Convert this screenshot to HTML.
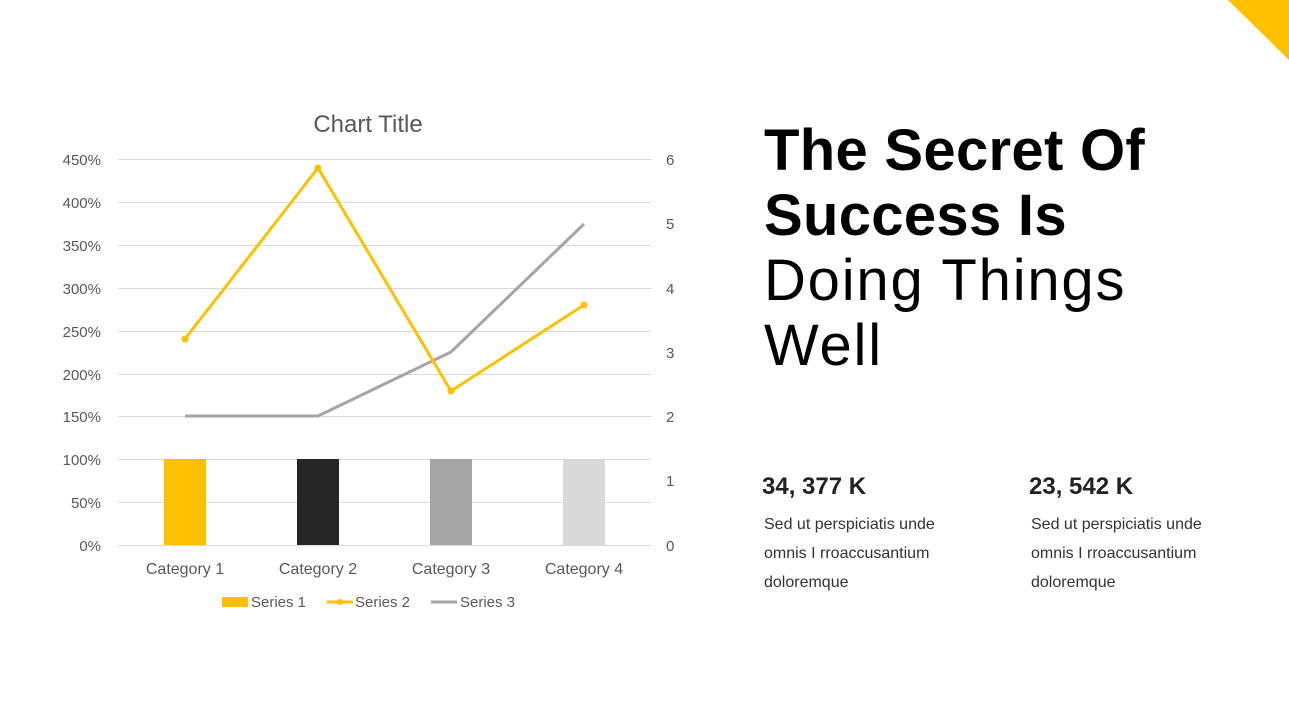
<!DOCTYPE html>
<html><head><meta charset="utf-8"><style>
body{margin:0;width:1289px;height:721px;background:#fff;overflow:hidden;position:relative;font-family:"Liberation Sans",sans-serif}
.h{position:absolute;left:764px;font-size:58px;line-height:65px;color:#000;white-space:nowrap}
.st{position:absolute;font-size:24px;font-weight:bold;color:#222}
.p{position:absolute;font-size:16px;line-height:29px;color:#333}
</style></head><body>
<svg width="1289" height="721" style="position:absolute;left:0;top:0">
<polygon points="1228,0 1289,0 1289,60" fill="#FFC000"/>
<text x="368" y="132" font-size="24" fill="#595959" text-anchor="middle" font-family="Liberation Sans">Chart Title</text>
<g stroke="#d9d9d9" stroke-width="1">
<line x1="118" x2="651" y1="159.5" y2="159.5"/><line x1="118" x2="651" y1="202.5" y2="202.5"/>
<line x1="118" x2="651" y1="245.5" y2="245.5"/><line x1="118" x2="651" y1="288.5" y2="288.5"/>
<line x1="118" x2="651" y1="331.5" y2="331.5"/><line x1="118" x2="651" y1="374.5" y2="374.5"/>
<line x1="118" x2="651" y1="416.5" y2="416.5"/><line x1="118" x2="651" y1="459.5" y2="459.5"/>
<line x1="118" x2="651" y1="502.5" y2="502.5"/><line x1="118" x2="651" y1="545.5" y2="545.5"/>
</g>
<g font-size="15" fill="#595959" font-family="Liberation Sans" text-anchor="end">
<text x="101" y="165">450%</text><text x="101" y="208">400%</text><text x="101" y="251">350%</text>
<text x="101" y="294">300%</text><text x="101" y="337">250%</text><text x="101" y="380">200%</text>
<text x="101" y="422">150%</text><text x="101" y="465">100%</text><text x="101" y="508">50%</text>
<text x="101" y="551">0%</text>
</g>
<g font-size="15" fill="#595959" font-family="Liberation Sans">
<text x="666" y="165">6</text><text x="666" y="229">5</text><text x="666" y="294">4</text>
<text x="666" y="358">3</text><text x="666" y="422">2</text><text x="666" y="486">1</text><text x="666" y="551">0</text>
</g>
<rect x="164" y="459" width="42" height="86" fill="#FFC000"/>
<rect x="297" y="459" width="42" height="86" fill="#262626"/>
<rect x="430" y="459" width="42" height="86" fill="#A5A5A5"/>
<rect x="563" y="459" width="42" height="86" fill="#D9D9D9"/>
<polyline points="185,416 318,416 451,352 584,224" fill="none" stroke="#A5A5A5" stroke-width="3"/>
<polyline points="185,339 318,168 451,391 584,305" fill="none" stroke="#FFC000" stroke-width="3"/>
<g fill="#FFC000"><circle cx="185" cy="339" r="3.5"/><circle cx="318" cy="168" r="3.5"/><circle cx="451" cy="391" r="3.5"/><circle cx="584" cy="305" r="3.5"/></g>
<g font-size="16" fill="#595959" font-family="Liberation Sans" text-anchor="middle">
<text x="185" y="574">Category 1</text><text x="318" y="574">Category 2</text>
<text x="451" y="574">Category 3</text><text x="584" y="574">Category 4</text>
</g>
<rect x="222" y="597" width="26" height="10" fill="#FFC000"/>
<line x1="327" x2="353" y1="602" y2="602" stroke="#FFC000" stroke-width="3"/><circle cx="340" cy="602" r="3" fill="#FFC000"/>
<line x1="431" x2="457" y1="602" y2="602" stroke="#A5A5A5" stroke-width="3"/>
<g font-size="15" fill="#595959" font-family="Liberation Sans">
<text x="251" y="607">Series 1</text><text x="355" y="607">Series 2</text><text x="460" y="607">Series 3</text>
</g>
</svg>
<div class="h" style="top:118px;font-weight:bold;letter-spacing:0.3px">The Secret Of</div>
<div class="h" style="top:183px;font-weight:bold;letter-spacing:0.3px">Success Is</div>
<div class="h" style="top:248px;letter-spacing:1.8px">Doing Things</div>
<div class="h" style="top:313px;letter-spacing:1.8px">Well</div>
<div class="st" style="left:762px;top:473px">34, 377 K</div>
<div class="st" style="left:1029px;top:473px">23, 542 K</div>
<div class="p" style="left:764px;top:510px">Sed ut perspiciatis unde<br>omnis I rroaccusantium<br>doloremque</div>
<div class="p" style="left:1031px;top:510px">Sed ut perspiciatis unde<br>omnis I rroaccusantium<br>doloremque</div>
</body></html>
